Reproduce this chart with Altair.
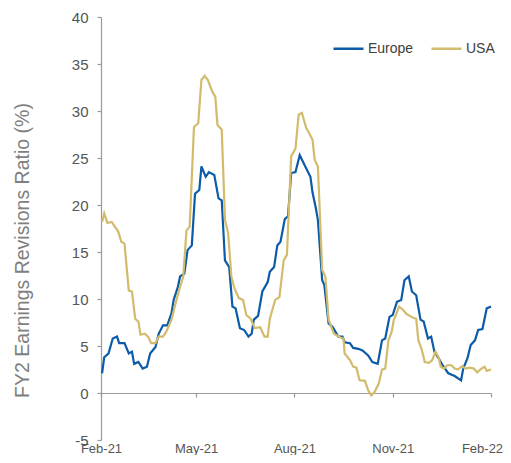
import altair as alt
import pandas as pd

europe_dates = ["2021-02-02","2021-02-04","2021-02-08","2021-02-12","2021-02-16","2021-02-18","2021-02-23","2021-02-27",
    "2021-03-02","2021-03-04","2021-03-08","2021-03-12","2021-03-16","2021-03-19","2021-03-24","2021-03-27","2021-03-31",
    "2021-04-04","2021-04-08","2021-04-10","2021-04-14","2021-04-16","2021-04-20","2021-04-23","2021-04-27","2021-04-30",
    "2021-05-04","2021-05-06","2021-05-10","2021-05-13","2021-05-18","2021-05-22","2021-05-25","2021-05-28",
    "2021-06-01","2021-06-04","2021-06-07","2021-06-11","2021-06-15","2021-06-19","2021-06-22","2021-06-24","2021-06-28",
    "2021-07-02","2021-07-07","2021-07-09","2021-07-13","2021-07-16","2021-07-19","2021-07-23","2021-07-26","2021-07-29",
    "2021-08-02","2021-08-06","2021-08-09","2021-08-12","2021-08-16","2021-08-18","2021-08-21","2021-08-23","2021-08-27","2021-08-29",
    "2021-09-02","2021-09-06","2021-09-11","2021-09-15","2021-09-17","2021-09-22","2021-09-25","2021-09-30",
    "2021-10-04","2021-10-09","2021-10-13","2021-10-18","2021-10-22","2021-10-25","2021-10-29",
    "2021-11-01","2021-11-05","2021-11-09","2021-11-12","2021-11-16","2021-11-19","2021-11-23","2021-11-27","2021-11-30",
    "2021-12-04","2021-12-07","2021-12-10","2021-12-14","2021-12-18","2021-12-23","2021-12-29",
    "2022-01-04","2022-01-06","2022-01-10","2022-01-13","2022-01-17","2022-01-20","2022-01-24","2022-01-28","2022-02-01"]
europe_vals = [2.1,3.8,4.2,5.8,6.0,5.3,5.3,4.2,
    4.4,3.1,3.3,2.6,2.8,4.2,4.9,6.3,7.2,
    7.2,8.5,9.9,11.3,12.4,12.7,15.2,15.7,21.2,
    21.6,24.1,23.0,23.5,23.2,20.7,20.5,14.1,
    13.4,9.2,9.0,6.9,6.7,6.0,6.3,7.8,8.2,
    10.8,11.8,12.9,13.4,15.7,16.1,18.5,18.8,23.4,
    23.5,25.3,24.6,23.9,23.0,21.3,19.7,18.4,12.0,11.5,
    7.4,7.0,6.0,6.0,5.4,5.3,4.8,4.7,
    4.5,4.0,3.3,3.1,5.6,5.8,8.1,
    8.3,9.7,9.9,12.0,12.4,10.8,10.4,7.8,7.6,
    5.8,6.0,4.4,3.7,2.9,2.1,1.8,
    1.35,2.6,3.7,5.1,5.6,6.7,6.8,9.0,9.2]

usa_dates = ["2021-02-02","2021-02-04","2021-02-07","2021-02-11","2021-02-14","2021-02-17","2021-02-20","2021-02-23","2021-02-25","2021-02-27",
    "2021-03-02","2021-03-05","2021-03-08","2021-03-10","2021-03-14","2021-03-17","2021-03-20","2021-03-24","2021-03-27","2021-03-31",
    "2021-04-03","2021-04-08","2021-04-11","2021-04-15","2021-04-19","2021-04-22","2021-04-25","2021-04-29",
    "2021-05-03","2021-05-06","2021-05-09","2021-05-12","2021-05-16","2021-05-19","2021-05-21","2021-05-25","2021-05-28","2021-05-31",
    "2021-06-03","2021-06-06","2021-06-10","2021-06-14","2021-06-17","2021-06-21","2021-06-25","2021-06-30",
    "2021-07-04","2021-07-07","2021-07-09","2021-07-14","2021-07-18","2021-07-22","2021-07-25","2021-07-29",
    "2021-08-02","2021-08-05","2021-08-08","2021-08-12","2021-08-15","2021-08-18","2021-08-20","2021-08-23","2021-08-27","2021-08-30",
    "2021-09-02","2021-09-07","2021-09-13","2021-09-16","2021-09-17","2021-09-22","2021-09-25","2021-09-28",
    "2021-10-01","2021-10-06","2021-10-09","2021-10-12","2021-10-15","2021-10-19","2021-10-22","2021-10-25","2021-10-28","2021-10-31",
    "2021-11-02","2021-11-05","2021-11-07","2021-11-11","2021-11-14","2021-11-17","2021-11-20","2021-11-23","2021-11-25","2021-11-28",
    "2021-12-01","2021-12-05","2021-12-08","2021-12-11","2021-12-14","2021-12-16","2021-12-19","2021-12-22","2021-12-26","2021-12-29",
    "2022-01-01","2022-01-05","2022-01-08","2022-01-12","2022-01-16","2022-01-19","2022-01-23","2022-01-26","2022-01-28","2022-02-01"]
usa_vals = [18.2,19.1,18.1,18.2,17.7,17.2,16.1,15.9,13.4,10.9,
    10.8,7.9,7.6,6.2,6.3,6.0,5.3,5.3,6.0,6.0,
    6.5,7.8,9.2,10.9,12.4,17.3,17.7,28.3,
    28.7,33.3,33.75,33.3,32.1,31.5,28.5,28.0,18.4,17.0,
    12.4,11.1,10.1,9.9,8.3,7.9,6.9,7.0,
    6.0,6.0,7.9,9.9,10.2,14.1,14.7,25.2,
    26.0,29.6,29.8,28.2,27.6,26.9,24.8,24.1,13.1,12.4,
    7.8,6.3,5.9,5.8,4.2,3.5,2.8,2.7,
    1.35,1.3,0.3,-0.25,0.1,1.0,2.5,2.6,5.6,6.5,
    7.75,8.6,9.2,8.8,8.4,8.2,8.0,7.9,5.6,4.7,
    3.3,3.2,3.5,4.4,3.8,2.8,2.6,2.95,2.95,2.6,
    2.5,2.85,2.6,2.7,2.6,2.2,2.6,2.8,2.35,2.5]

series_names = ["Europe", "USA"]
series_colors = ["#0B5BA8", "#D2BB6C"]
y_ticks = [-5, 0, 5, 10, 15, 20, 25, 30, 35, 40]
x_ticks = [alt.DateTime(year=2021, month=2, date=1, utc=True),
           alt.DateTime(year=2021, month=5, date=1, utc=True),
           alt.DateTime(year=2021, month=8, date=1, utc=True),
           alt.DateTime(year=2021, month=11, date=1, utc=True),
           alt.DateTime(year=2022, month=2, date=1, utc=True)]

df = pd.concat([
    pd.DataFrame({"date": europe_dates, "value": europe_vals, "series": "Europe"}),
    pd.DataFrame({"date": usa_dates, "value": usa_vals, "series": "USA"}),
])

font = "Liberation Sans"

chart = alt.Chart(df).mark_line(strokeWidth=2.2, clip=False).encode(
    x=alt.X("date:T",
            scale=alt.Scale(type="utc", domain=[x_ticks[0], x_ticks[-1]]),
            axis=alt.Axis(values=x_ticks, labelExpr="utcFormat(datum.value, '%b-%y')", title=None,
                          offset=-47, tickSize=4, tickColor="#9a9a9a", domainColor="#9a9a9a",
                          domainWidth=1.2, tickWidth=1.2, labelPadding=45, labelFontSize=13,
                          labelOffset={"condition": {"test": "utcyear(datum.value) == 2022", "value": -9}, "value": 0},
                          labelColor="#555555", labelFont=font, grid=False, labelFlush=False)),
    y=alt.Y("value:Q",
            scale=alt.Scale(domain=[-5, 40], nice=False, zero=False),
            axis=alt.Axis(values=y_ticks, labelExpr="'' + datum.value",
                          title="FY2 Earnings Revisions Ratio (%)",
                          titleFontSize=19.5, titleFont=font, titleColor="#7f7f7f", titleFontWeight="normal",
                          titleX=-79, titleY=233, titleBaseline="middle",
                          tickSize=4, tickColor="#9a9a9a", domainColor="#9a9a9a", domainWidth=1.2, tickWidth=1.2,
                          labelFontSize=15, labelFont=font, labelColor="#555555", labelPadding=9, grid=False)),
    color=alt.Color("series:N",
                    scale=alt.Scale(domain=series_names, range=series_colors),
                    legend=alt.Legend(title=None, orient="none", legendX=231, legendY=15, direction="horizontal",
                                      symbolType="stroke", symbolSize=900, symbolStrokeWidth=2.5,
                                      labelFontSize=14, labelFont=font, labelColor="#404040",
                                      columnPadding=12, labelOffset=3, padding=0)),
).properties(
    width=390, height=423,
    autosize=alt.AutoSizeParams(type="none"),
    padding={"left": 93, "top": 9, "right": 12, "bottom": 15},
).configure_view(stroke=None)

chart.save("out.html", embed_options={"renderer": "svg", "actions": False})
